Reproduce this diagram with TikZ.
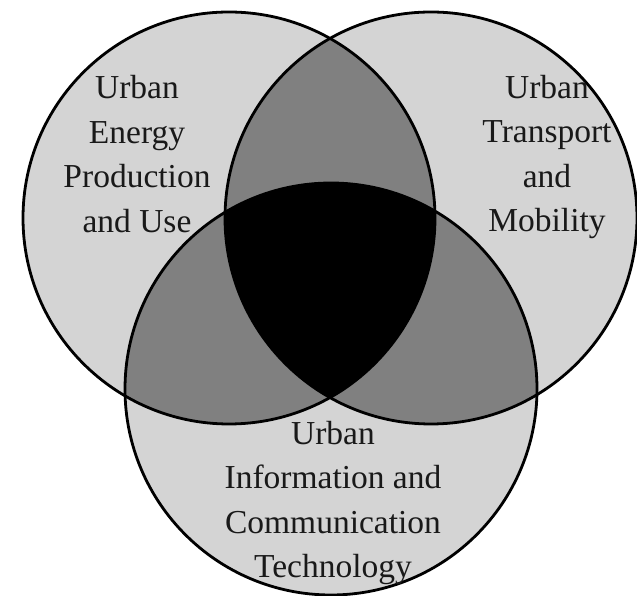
\documentclass[tikz,border=0pt]{standalone}
\usepackage{fontspec}
\setmainfont{Liberation Serif}
\definecolor{lightg}{RGB}{212,212,212}
\definecolor{midg}{RGB}{128,128,128}
\begin{document}
\begin{tikzpicture}[x=1pt,y=1pt,
  ring/.style={draw=black,line width=2.8pt},
  lbl/.style={align=center,inner sep=0pt,font=\fontsize{33.5}{44.5}\selectfont,text=black!90}]
\useasboundingbox (0,0) rectangle (637,596);
\def\circA{(229,378) circle (206)}
\def\circB{(431,378) circle (206)}
\def\circC{(331,207) circle (206)}
\fill[lightg] \circA;
\fill[lightg] \circB;
\fill[lightg] \circC;
\begin{scope}\clip \circA; \fill[midg] \circB; \fill[midg] \circC; \end{scope}
\begin{scope}\clip \circB; \fill[midg] \circC; \end{scope}
\begin{scope}\clip \circA; \clip \circB; \fill[black] \circC; \end{scope}
\draw[ring] \circA;
\draw[ring] \circB;
\draw[ring] \circC;
\node[lbl] (energy) at (137,442) {Urban\\Energy\\Production\\and Use};
\node[lbl] (transport) at (547,439) {Urban\\Transport\\and\\Mobility};
\node[lbl] (ict) at (333,93) {Urban\\Information and\\Communication\\Technology};
\end{tikzpicture}
\end{document}
